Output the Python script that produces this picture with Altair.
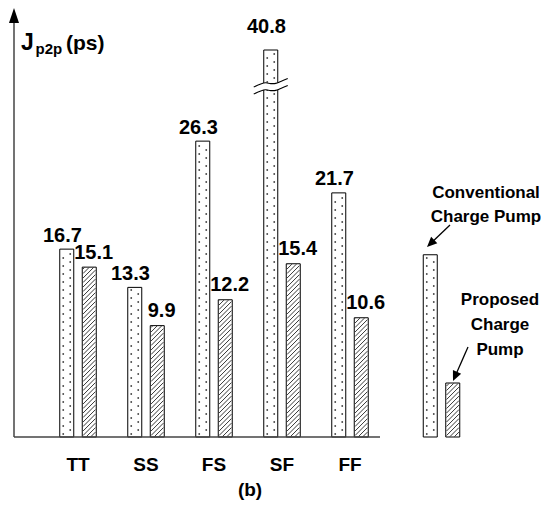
import math
import altair as alt
import pandas as pd

# ---------------- data ----------------
CORNERS = ["TT", "SS", "FS", "SF", "FF"]
CONVENTIONAL = [16.7, 13.3, 26.3, 40.8, 21.7]
PROPOSED = [15.1, 9.9, 12.2, 15.4, 10.6]
SERIES = ["Conventional", "Proposed"]
LEGEND_CONV_LINES = ["Conventional", "Charge Pump"]
LEGEND_PROP_LINES = ["Proposed", "Charge", "Pump"]
LEGEND_BAR_HEIGHTS = [16.2, 4.8]      # illustrative legend bars
Y_TITLE_PARTS = ["J", "p2p", "(ps)"]
CAPTION = "(b)"
BREAK_TOP = 34.4                      # visible top of the broken (SF) bar

# ---------------- layout ----------------
W, H = 533, 493
SLOT_PX = 68.0
SLOT1_X = 70.0
BASE_Y = 429.0
PS_PX = 11.25
FONT = "Liberation Sans, Arial, sans-serif"


def sx(px):
    return 1 + (px - SLOT1_X) / SLOT_PX


def sy(py):
    return (BASE_Y - py) / PS_PX


def px_of_slot(s):
    return SLOT1_X + (s - 1) * SLOT_PX


XS = alt.Scale(domain=[sx(0), sx(W)], nice=False, zero=False)
YS = alt.Scale(domain=[sy(H), sy(0)], nice=False, zero=False)
OFF = 11.25
BW = 14.0
LEGEND_SLOT = sx(433.5)

# bars
bar_rows = []
for i, c in enumerate(CORNERS):
    for j, (ser, vals) in enumerate(zip(SERIES, [CONVENTIONAL, PROPOSED])):
        v = vals[i]
        disp = min(v, BREAK_TOP)
        cx = px_of_slot(i + 1) + (-OFF if j == 0 else OFF)
        bar_rows.append(dict(corner=c, series=ser, value=v, disp=disp, cx=cx,
                             broken=v > BREAK_TOP, legend=False))
for j, ser in enumerate(SERIES):
    cx = px_of_slot(LEGEND_SLOT) + (-OFF if j == 0 else OFF)
    bar_rows.append(dict(corner="legend", series=ser, value=LEGEND_BAR_HEIGHTS[j],
                         disp=LEGEND_BAR_HEIGHTS[j], cx=cx, broken=False, legend=True))
bars = pd.DataFrame(bar_rows)
bars["x0"] = sx(bars["cx"] - BW / 2)
bars["x1"] = sx(bars["cx"] + BW / 2)
bars["y0"] = 0.0

# hatch (proposed) and dots (conventional) textures
hatch, dots = [], []
for _, r in bars.iterrows():
    L = r.cx - BW / 2 + 0.8
    w = BW - 1.6
    hp = r.disp * PS_PX - 0.8
    if r.series == "Proposed":
        c = -w
        while c < hp:
            t0 = max(0.0, -c)
            t1 = min(w, hp - c)
            if t1 > t0:
                hatch.append(dict(x=sx(L + t0), y=(c + t0 + 0.4) / PS_PX,
                                  x2=sx(L + t1), y2=(c + t1 + 0.4) / PS_PX))
            c += 4.5
    else:
        for k, colx in enumerate([r.cx - 3.5, r.cx + 3.5]):
            yy = 3.0 + k * 4.0
            while yy < hp - 1.5:
                dots.append(dict(x=sx(colx), y=yy / PS_PX))
                yy += 8.0
hatch = pd.DataFrame(hatch)
dots = pd.DataFrame(dots)

# value labels
lab = bars[~bars.legend].copy()
lab["label"] = lab["value"].map(lambda v: f"{v:.1f}")
lab["lx"] = sx(lab["cx"] + lab["series"].map({"Conventional": -4.3, "Proposed": 4.4}))
gap = lab["series"].map({"Conventional": 13.5, "Proposed": 14.5}) + lab["broken"].map({True: 10.0, False: 0.0})
lab["ly"] = lab["disp"] + gap / PS_PX

# break symbol on the SF conventional bar
sf = bars[(bars.corner == "SF") & (bars.series == "Conventional")].iloc[0]
BREAK_PY = 79.0  # plot-px level of the break
wave_dx = [-17, -10, -5, 0, 5, 10, 17]
wave_dy = [0.0, -3.0, -4.2, -3.4, -3.6, -5.5, -8.4]
wave = pd.DataFrame(dict(
    x=[sx(sf.cx + d) for d in wave_dx],
    top=[sy(BREAK_PY + d) for d in wave_dy],
    bot=[sy(BREAK_PY + 7 + d) for d in wave_dy],
))

base = alt.Chart(bars)

bar_layer = base.mark_bar(fill="white", stroke="black", strokeWidth=1).encode(
    x=alt.X("x0:Q", scale=XS, axis=None), x2="x1:Q",
    y=alt.Y("y0:Q", scale=YS, axis=None), y2="disp:Q")

hatch_layer = alt.Chart(hatch).mark_rule(color="#222", strokeWidth=0.9).encode(
    x=alt.X("x:Q", scale=XS), x2="x2:Q", y=alt.Y("y:Q", scale=YS), y2="y2:Q")

dot_layer = alt.Chart(dots).mark_point(filled=True, shape="square", size=2.5,
                                       color="#333", opacity=1).encode(
    x=alt.X("x:Q", scale=XS), y=alt.Y("y:Q", scale=YS))

break_fill = alt.Chart(wave).mark_area(color="white", interpolate="cardinal", opacity=1).encode(
    x=alt.X("x:Q", scale=XS), y=alt.Y("top:Q", scale=YS), y2="bot:Q")
break_top = alt.Chart(wave).mark_line(color="black", strokeWidth=1.1, interpolate="cardinal").encode(
    x=alt.X("x:Q", scale=XS), y=alt.Y("top:Q", scale=YS))
break_bot = alt.Chart(wave).mark_line(color="black", strokeWidth=1.1, interpolate="cardinal").encode(
    x=alt.X("x:Q", scale=XS), y=alt.Y("bot:Q", scale=YS))

value_labels = alt.Chart(lab).mark_text(font=FONT, fontSize=20, fontWeight="bold",
                                        baseline="middle", align="center", color="black").encode(
    x=alt.X("lx:Q", scale=XS), y=alt.Y("ly:Q", scale=YS), text="label:N")

# axes
axes_df = pd.DataFrame([
    dict(x=sx(6), x2=sx(6), y=0.0, y2=sy(12)),
    dict(x=sx(6), x2=sx(372), y=0.0, y2=0.0),
])
axes_layer = alt.Chart(axes_df).mark_rule(color="#444", strokeWidth=1.5).encode(
    x=alt.X("x:Q", scale=XS), x2="x2:Q", y=alt.Y("y:Q", scale=YS), y2="y2:Q")
arrow_y = alt.Chart(pd.DataFrame([dict(x=sx(6), y=sy(7.5))])).mark_point(
    shape="M0,-1L0.667,1L-0.667,1Z", size=225, filled=True, color="black", opacity=1).encode(
    x=alt.X("x:Q", scale=XS), y=alt.Y("y:Q", scale=YS))

cat_df = pd.DataFrame(dict(corner=CORNERS, s=[i + 1 for i in range(len(CORNERS))]))
cat_df["y"] = sy(457)
cat_labels = alt.Chart(cat_df).mark_text(font=FONT, fontSize=19, fontWeight="bold",
                                         baseline="middle", color="black").encode(
    x=alt.X("s:Q", scale=XS), y=alt.Y("y:Q", scale=YS), text="corner:N")

caption = alt.Chart(pd.DataFrame([dict(t=CAPTION, x=sx(242), y=sy(482))])).mark_text(
    font=FONT, fontSize=19, fontWeight="bold", baseline="middle", color="black").encode(
    x=alt.X("x:Q", scale=XS), y=alt.Y("y:Q", scale=YS), text="t:N")

# y title with subscript
yt = pd.DataFrame([
    dict(t=Y_TITLE_PARTS[0], x=sx(13), y=sy(42), fs=23),
    dict(t=Y_TITLE_PARTS[1], x=sx(27.5), y=sy(46), fs=15),
    dict(t=Y_TITLE_PARTS[2], x=sx(58), y=sy(42), fs=21),
])
ytitle = alt.Chart(yt).mark_text(font=FONT, fontWeight="bold", align="left",
                                 baseline="alphabetic", color="black").encode(
    x=alt.X("x:Q", scale=XS), y=alt.Y("y:Q", scale=YS), text="t:N",
    size=alt.Size("fs:Q", scale=None, legend=None))

# legend texts
leg_txt = pd.DataFrame(
    [dict(t=t, x=sx(478), y=sy(185 + 24 * k)) for k, t in enumerate(LEGEND_CONV_LINES)] +
    [dict(t=t, x=sx(492), y=sy(292 + 25 * k)) for k, t in enumerate(LEGEND_PROP_LINES)])
legend_text = alt.Chart(leg_txt).mark_text(font=FONT, fontSize=17, fontWeight="bold",
                                           baseline="middle", color="black").encode(
    x=alt.X("x:Q", scale=XS), y=alt.Y("y:Q", scale=YS), text="t:N")

# legend arrows
arrows = [((442, 217), (419, 239)), ((460, 339), (445, 373))]
shaft_rows, head_rows = [], []
for (x0, y0), (x1, y1) in arrows:
    dx, dy = x1 - x0, y1 - y0
    n = math.hypot(dx, dy)
    ux, uy = dx / n, dy / n
    hx, hy = x1 - 5 * ux, y1 - 5 * uy
    ang = math.degrees(math.atan2(ux, -uy)) % 360
    shaft_rows.append(dict(x=sx(x0), y=sy(y0), x2=sx(hx), y2=sy(hy)))
    head_rows.append(dict(x=sx(hx), y=sy(hy), a=ang))
shafts = alt.Chart(pd.DataFrame(shaft_rows)).mark_rule(color="black", strokeWidth=1.3).encode(
    x=alt.X("x:Q", scale=XS), x2="x2:Q", y=alt.Y("y:Q", scale=YS), y2="y2:Q")
heads = alt.Chart(pd.DataFrame(head_rows)).mark_point(
    shape="M0,-1L0.9,1L-0.9,1Z", size=100, filled=True, color="black", opacity=1).encode(
    x=alt.X("x:Q", scale=XS), y=alt.Y("y:Q", scale=YS),
    angle=alt.Angle("a:Q", scale=None))

chart = alt.layer(
    bar_layer, hatch_layer, dot_layer, break_fill, break_top, break_bot,
    axes_layer, arrow_y, value_labels, cat_labels, caption, ytitle,
    legend_text, shafts, heads,
).properties(
    width=W, height=H, padding=0,
    autosize=alt.AutoSizeParams(type="none"),
).configure_view(strokeWidth=0)

chart.save("out.html", embed_options={"renderer": "svg", "actions": False})
